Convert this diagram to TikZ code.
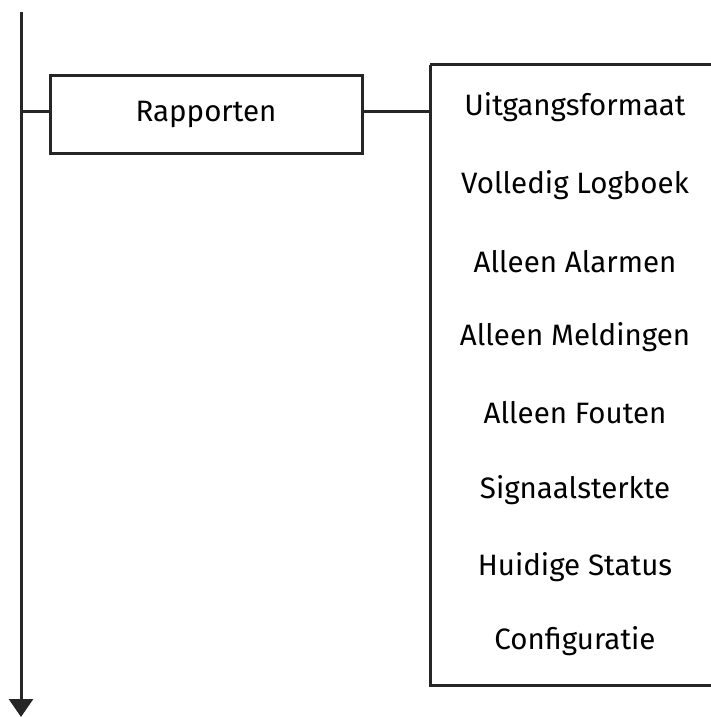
\documentclass[tikz,border=0pt]{standalone}
\usepackage{fontspec}
\setmainfont{Fira Sans}
\usetikzlibrary{arrows.meta}
\begin{document}
\begin{tikzpicture}[x=1pt,y=-1pt,
  line/.style={line width=3pt,draw=black!85},
  txt/.style={font=\fontsize{29.5}{34}\selectfont},
  item/.style={txt,anchor=center,inner sep=0pt}]
\useasboundingbox (0,0) rectangle (711,717);
\coordinate (top) at (21,12);
\coordinate (bot) at (21,717);
\draw[line,-{Triangle[width=24pt,length=18pt]}] (top) -- (bot);
\node[line,draw,txt,minimum width=312pt,minimum height=78pt,inner sep=0pt] (rap) at (206,114) {Rapporten};
\coordinate (tap) at (21,111);
\draw[line] (tap) -- (rap.west |- tap);
\draw[line] (430,65) -- (430,685) -- (720,685);
\draw[line] (430,65) -- (720,65);
\coordinate (lb) at (430,111);
\draw[line] (rap.east |- lb) -- (lb);
\node[item] (i1) at (575,107) {Uitgangsformaat};
\node[item] (i2) at (575,185) {Volledig Logboek};
\node[item] (i3) at (575,262) {Alleen Alarmen};
\node[item] (i4) at (575,337) {Alleen Meldingen};
\node[item] (i5) at (575,413) {Alleen Fouten};
\node[item] (i6) at (575,490) {Signaalsterkte};
\node[item] (i7) at (575,567) {Huidige Status};
\node[item] (i8) at (575,641) {Configuratie};
\end{tikzpicture}
\end{document}
